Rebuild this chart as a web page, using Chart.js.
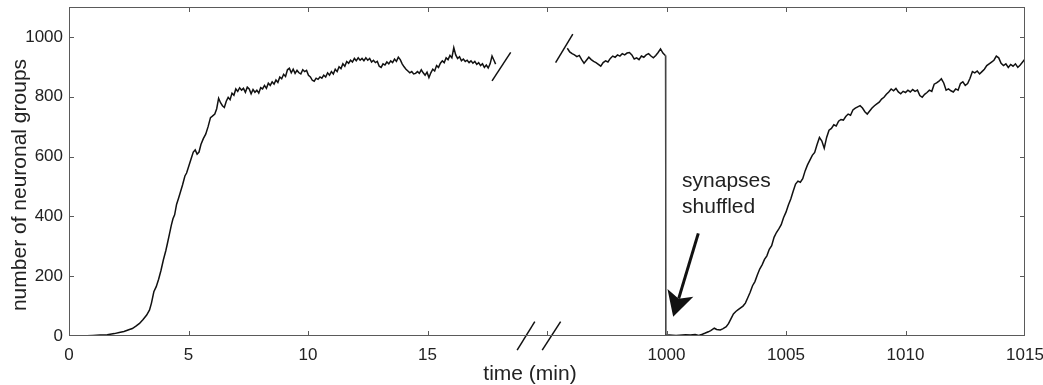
<!DOCTYPE html>
<html>
<head>
<meta charset="utf-8">
<script src="https://cdn.jsdelivr.net/npm/chart.js@4/dist/chart.umd.min.js"></script>
<style>
  html, body { margin: 0; padding: 0; background: #fff; }
  canvas { display: block; }
</style>
</head>
<body>
<canvas id="c" width="1043" height="385"></canvas>
<script>
// run A: first 18 min (time in min, number of neuronal groups)
const runATime = [
  0, 0.5, 1.0, 1.3, 1.6, 1.9, 2.1, 2.3, 2.5, 2.65,
  2.8, 2.95, 3.1, 3.25, 3.37, 3.45, 3.55, 3.65, 3.75, 3.85,
  3.95, 4.05, 4.12, 4.2, 4.28, 4.35, 4.42, 4.5, 4.58, 4.65,
  4.75, 4.85, 4.92, 5.0, 5.1, 5.2, 5.28, 5.36, 5.44, 5.52,
  5.62, 5.72, 5.82, 5.92, 6.0, 6.1, 6.18, 6.26, 6.34, 6.42,
  6.5, 6.58, 6.66, 6.74, 6.82, 6.9, 6.98, 7.06, 7.14, 7.22,
  7.3, 7.38, 7.46, 7.54, 7.62, 7.7, 7.78, 7.86, 7.94, 8.02,
  8.1, 8.18, 8.26, 8.34, 8.42, 8.5, 8.58, 8.66, 8.74, 8.82,
  8.9, 8.98, 9.06, 9.14, 9.22, 9.3, 9.38, 9.46, 9.54, 9.62,
  9.7, 9.78, 9.86, 9.94, 10.02, 10.1, 10.18, 10.26, 10.34, 10.42,
  10.5, 10.58, 10.66, 10.74, 10.82, 10.9, 10.98, 11.06, 11.14, 11.22,
  11.3, 11.38, 11.46, 11.54, 11.62, 11.7, 11.78, 11.86, 11.94, 12.02,
  12.1, 12.18, 12.26, 12.34, 12.42, 12.5, 12.58, 12.66, 12.74, 12.82,
  12.9, 12.98, 13.06, 13.14, 13.22, 13.3, 13.38, 13.46, 13.54, 13.62,
  13.7, 13.78, 13.86, 13.94, 14.02, 14.1, 14.18, 14.26, 14.34, 14.42,
  14.5, 14.58, 14.66, 14.74, 14.82, 14.9, 14.98, 15.06, 15.14, 15.22,
  15.3, 15.38, 15.46, 15.54, 15.62, 15.7, 15.78, 15.86, 15.94, 16.02,
  16.1, 16.18, 16.26, 16.34, 16.42, 16.5, 16.58, 16.66, 16.74, 16.82,
  16.9, 16.98, 17.06, 17.14, 17.22, 17.3, 17.38, 17.46, 17.54, 17.62,
  17.7, 17.78, 17.85
];
const runACount = [
  0, 0, 2, 3, 4, 8, 12, 15, 21, 25,
  33, 42, 55, 70, 87, 110, 148, 165, 190, 220,
  255, 285, 310, 340, 370, 392, 405, 440, 460, 478,
  505, 535, 545, 565, 590, 615, 622, 608, 615, 640,
  660, 675, 700, 730, 735, 742, 760, 795, 780, 770,
  764, 785, 798, 790, 812, 805, 826, 818, 830, 822,
  828, 815, 832, 826, 810, 824, 815, 822, 812, 830,
  826, 838, 828, 845, 838, 850, 842, 856, 848, 866,
  860, 875, 868, 890, 895, 880, 892, 878, 888, 880,
  876, 890, 884, 888, 872, 866, 855, 852, 862, 858,
  866, 862, 872, 866, 880, 872, 884, 876, 892, 884,
  900, 894, 910, 902, 918, 912, 922, 916, 928, 920,
  930, 922, 928, 920, 930, 922, 928, 916, 922, 914,
  918, 902, 898, 910, 906, 916, 910, 920, 914, 926,
  918, 932, 924, 910, 900, 892, 886, 880, 884, 876,
  878, 884, 878, 890, 880, 872, 882, 864, 880, 892,
  886, 904, 898, 912, 920, 914, 930, 924, 938, 930,
  964, 940, 928, 934, 920, 926, 918, 922, 914, 920,
  912, 918, 908, 914, 904, 910, 898, 906, 896, 910,
  936, 922, 909
];

// run B: after the axis break, synapses shuffled at 1000 min
const runBTime = [
  995.85, 995.95, 996.05, 996.15, 996.25, 996.35, 996.45, 996.55, 996.65, 996.75,
  996.85, 996.95, 997.05, 997.15, 997.25, 997.35, 997.45, 997.55, 997.65, 997.75,
  997.85, 997.95, 998.05, 998.15, 998.25, 998.35, 998.45, 998.55, 998.65, 998.75,
  998.85, 998.95, 999.05, 999.15, 999.25, 999.35, 999.45, 999.55, 999.65, 999.75,
  999.85, 999.95, 999.97,
  1000.1, 1000.4, 1000.8, 1001.0, 1001.2, 1001.35, 1001.5, 1001.6, 1001.75, 1001.85,
  1002.0, 1002.1, 1002.25, 1002.35, 1002.5, 1002.6, 1002.7, 1002.8, 1002.9, 1003.0,
  1003.1, 1003.2, 1003.3, 1003.4, 1003.5, 1003.6, 1003.7, 1003.8, 1003.9, 1004.0,
  1004.1, 1004.2, 1004.3, 1004.4, 1004.5, 1004.6, 1004.7, 1004.8, 1004.9, 1005.0,
  1005.1, 1005.2, 1005.3, 1005.4, 1005.5, 1005.6, 1005.7, 1005.8, 1005.9, 1006.0,
  1006.1, 1006.2, 1006.3, 1006.4, 1006.5, 1006.6, 1006.7, 1006.8, 1006.9, 1007.0,
  1007.1, 1007.2, 1007.3, 1007.4, 1007.5, 1007.6, 1007.7, 1007.8, 1007.9, 1008.0,
  1008.1, 1008.2, 1008.3, 1008.4, 1008.5, 1008.6, 1008.7, 1008.8, 1008.9, 1009.0,
  1009.1, 1009.2, 1009.3, 1009.4, 1009.5, 1009.6, 1009.7, 1009.8, 1009.9, 1010.0,
  1010.1, 1010.2, 1010.3, 1010.4, 1010.5, 1010.6, 1010.7, 1010.8, 1010.9, 1011.0,
  1011.1, 1011.2, 1011.3, 1011.4, 1011.5, 1011.6, 1011.7, 1011.8, 1011.9, 1012.0,
  1012.1, 1012.2, 1012.3, 1012.4, 1012.5, 1012.6, 1012.7, 1012.8, 1012.9, 1013.0,
  1013.1, 1013.2, 1013.3, 1013.4, 1013.5, 1013.6, 1013.7, 1013.8, 1013.9, 1014.0,
  1014.1, 1014.2, 1014.3, 1014.4, 1014.5, 1014.6, 1014.7, 1014.8, 1014.9, 1015.0
];
const runBCount = [
  962, 950, 944, 940, 934, 938, 924, 912, 922, 932,
  924, 918, 914, 908, 902, 914, 920, 916, 928, 936,
  932, 940, 936, 944, 940, 946, 948, 940, 926, 930,
  924, 936, 932, 940, 944, 936, 930, 938, 948, 960,
  946, 938, 2,
  3, 2, 4, 3, 5, 2, 6, 9, 14, 18,
  26, 22, 20, 24, 31, 42, 58, 74, 82, 88,
  94, 100, 110, 128, 146, 168, 182, 204, 224, 238,
  256, 268, 290, 302, 330, 346, 358, 372, 396, 414,
  438, 458, 484, 508, 518, 514, 526, 552, 572, 588,
  604, 614, 640, 664, 652, 628, 664, 688, 694, 706,
  702, 718, 724, 722, 734, 742, 738, 756, 762, 766,
  770, 762, 750, 742, 752, 762, 770, 776, 782, 792,
  798, 808, 816, 826, 820, 828, 816, 810, 818, 814,
  822, 816, 824, 818, 822, 804, 798, 808, 814, 822,
  818, 842, 846, 852, 860, 846, 822, 826, 820, 816,
  826, 822, 844, 850, 838, 844, 862, 884, 880, 886,
  876, 884, 892, 904, 910, 916, 922, 936, 930, 912,
  904, 910, 898, 908, 902, 910, 898, 906, 916, 926
];

// axis is continuous 0..40; everything after the break is shifted by this
const BREAK_SHIFT = 975;
const xTickLabels = ['0', '5', '10', '15', '', '1000', '1005', '1010', '1015'];
const yTicks = [0, 200, 400, 600, 800, 1000];

// break marks, in axis units [x0, y0, x1, y1]
const breakMarks = [
  [17.7, 853, 18.48, 948],     // end of run A
  [20.36, 914, 21.08, 1009],   // start of run B
  [18.75, -47, 19.49, 48],     // on the time axis
  [19.8, -47, 20.57, 48]
];

const FONT = "'Liberation Sans', Arial, Helvetica, sans-serif";
const INK = '#111';

function toAxis(t){ return t > 500 ? t - BREAK_SHIFT : t; }
function series(ts, ns){ return ts.map((t, i) => ({x: toAxis(t), y: ns[i]})); }

// the shuffle drop is drawn as a thin grey stroke in the original
const dropSegment = {
  borderWidth: c => (c.p0.parsed.y - c.p1.parsed.y > 500 ? 1 : undefined),
  borderColor: c => (c.p0.parsed.y - c.p1.parsed.y > 500 ? '#444' : undefined)
};

const datasets = [
  {data: series(runATime, runACount)},
  {data: series(runBTime, runBCount), segment: dropSegment}
].map(d => Object.assign(d, {borderColor: INK, borderWidth: 1.5, pointRadius: 0, tension: 0, fill: false}));

breakMarks.forEach(m => datasets.push({
  data: [{x: m[0], y: m[1]}, {x: m[2], y: m[3]}],
  borderColor: INK, borderWidth: 1.5, pointRadius: 0, fill: false, clip: false
}));

// box + inward ticks on all four sides, like the original figure
const framePlugin = {
  id: 'frame',
  afterDatasetsDraw(chart){
    const {ctx, chartArea: a, scales: {x, y}} = chart;
    ctx.save();
    ctx.strokeStyle = '#5a5a5a';
    ctx.lineWidth = 1;
    ctx.strokeRect(a.left + 0.5, a.top + 0.5, a.right - a.left - 1, a.bottom - a.top - 1);
    const L = 5;
    ctx.beginPath();
    x.ticks.forEach(t => {
      if(t.value <= x.min || t.value >= x.max) return;
      const px = Math.round(x.getPixelForValue(t.value)) + 0.5;
      ctx.moveTo(px, a.bottom); ctx.lineTo(px, a.bottom - L);
      ctx.moveTo(px, a.top); ctx.lineTo(px, a.top + L);
    });
    yTicks.forEach(v => {
      if(v <= y.min) return;
      const py = Math.round(y.getPixelForValue(v)) + 0.5;
      ctx.moveTo(a.left, py); ctx.lineTo(a.left + L, py);
      ctx.moveTo(a.right, py); ctx.lineTo(a.right - L, py);
    });
    ctx.stroke();
    ctx.restore();
  },
  afterDraw(chart){
    const {ctx, scales: {x, y}} = chart;
    ctx.save();
    ctx.fillStyle = '#222';
    // axis titles
    ctx.font = '21px ' + FONT;
    ctx.textAlign = 'center';
    ctx.textBaseline = 'alphabetic';
    ctx.fillText('time (min)', 530, 380);
    ctx.save();
    ctx.translate(26, 185);
    ctx.rotate(-Math.PI / 2);
    ctx.fillText('number of neuronal groups', 0, 0);
    ctx.restore();

    // annotation
    ctx.textAlign = 'left';
    const tx = x.getPixelForValue(toAxis(1000.65));
    ctx.fillText('synapses', tx, y.getPixelForValue(498));
    ctx.fillText('shuffled', tx, y.getPixelForValue(411));

    // arrow
    const x0 = x.getPixelForValue(toAxis(1001.33)), y0 = y.getPixelForValue(343);
    const x1 = x.getPixelForValue(toAxis(1000.28)), y1 = y.getPixelForValue(64);
    const dx = x1 - x0, dy = y1 - y0, len = Math.hypot(dx, dy);
    const ux = dx / len, uy = dy / len, nx = -uy, ny = ux;
    const head = 25, half = 13.5, notch = 19;
    ctx.strokeStyle = '#111';
    ctx.lineWidth = 3;
    ctx.beginPath();
    ctx.moveTo(x0, y0);
    ctx.lineTo(x1 - ux * notch, y1 - uy * notch);
    ctx.stroke();
    ctx.fillStyle = '#111';
    ctx.beginPath();
    ctx.moveTo(x1, y1);
    ctx.lineTo(x1 - ux * head + nx * half, y1 - uy * head + ny * half);
    ctx.lineTo(x1 - ux * notch, y1 - uy * notch);
    ctx.lineTo(x1 - ux * head - nx * half, y1 - uy * head - ny * half);
    ctx.closePath();
    ctx.fill();
    ctx.restore();
  }
};

new Chart(document.getElementById('c'), {
  type: 'line',
  data: {datasets},
  options: {
    responsive: false,
    animation: false,
    events: [],
    layout: {padding: {left: 0, right: 18, top: 7, bottom: 0}},
    plugins: {legend: {display: false}, tooltip: {enabled: false}},
    scales: {
      x: {
        type: 'linear', min: 0, max: 40,
        grid: {display: false, drawTicks: false},
        border: {display: false},
        ticks: {
          stepSize: 5, autoSkip: false, maxRotation: 0, padding: 9,
          color: '#222', font: {family: FONT, size: 17},
          callback: v => xTickLabels[Math.round(v / 5)] ?? ''
        },
        afterFit: s => { s.height = 49; s.paddingLeft = 0; s.paddingRight = 0; }
      },
      y: {
        type: 'linear', min: 0, max: 1100,
        grid: {display: false, drawTicks: false},
        border: {display: false},
        afterBuildTicks: s => { s.ticks = yTicks.map(v => ({value: v})); },
        ticks: {padding: 6, color: '#222', font: {family: FONT, size: 17}, callback: v => String(v)},
        afterFit: s => { s.width = 69; s.paddingTop = 0; s.paddingBottom = 0; }
      }
    }
  },
  plugins: [framePlugin]
});
</script>
</body>
</html>
